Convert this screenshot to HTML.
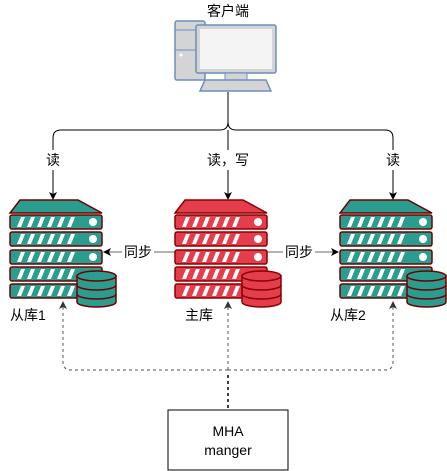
<!DOCTYPE html>
<html><head><meta charset="utf-8"><style>
html,body{margin:0;padding:0;background:#fff;}
svg{display:block;font-family:"Liberation Sans","Noto Sans CJK SC",sans-serif;}
</style></head><body>
<svg width="447" height="471" viewBox="0 0 447 471" xmlns="http://www.w3.org/2000/svg">
<defs>
<marker id="ar" markerWidth="8" markerHeight="8" refX="7" refY="4" orient="auto" markerUnits="userSpaceOnUse">
<path d="M0,0 L8,4 L0,8 L2,4 Z" fill="#000"/></marker>
<marker id="ar2" markerWidth="8" markerHeight="8" refX="7" refY="4" orient="auto" markerUnits="userSpaceOnUse">
<path d="M0,0 L8,4 L0,8 L2,4 Z" fill="#333"/></marker>
<g id="rowT">
<rect x="0" y="0" width="92" height="14" rx="2"/>
<g fill="#fff" stroke="none">
<path d="M7,12 L11,2 L15,2 L11,12Z M17,12 L21,2 L25,2 L21,12Z M27,12 L31,2 L35,2 L31,12Z M37,12 L41,2 L45,2 L41,12Z M47,12 L51,2 L55,2 L51,12Z M57,12 L61,2 L65,2 L61,12Z"/>
</g></g>
</defs>

<text x="228" y="16" font-size="14" text-anchor="middle">客户端</text>
<rect x="175" y="21" width="30" height="59" rx="2" fill="#d4d4d4" stroke="#6c8ebf" stroke-width="1.5"/>
<line x1="175" y1="30" x2="196" y2="30" stroke="#6c8ebf"/>
<line x1="175" y1="50" x2="196" y2="50" stroke="#6c8ebf"/>
<circle cx="181" cy="55" r="1.5" fill="#fff"/>
<rect x="196" y="25" width="80" height="48" rx="2" fill="#d4d4d4" stroke="#6c8ebf" stroke-width="1.5"/>
<rect x="200" y="29" width="72" height="40" fill="#f4f4f4"/>
<rect x="225" y="73" width="22" height="7" fill="#d4d4d4" stroke="#6c8ebf"/>
<path d="M205,80 L266,80 L271,91 L200,91 Z" fill="#d4d4d4" stroke="#6c8ebf" stroke-width="1.5"/>

<path d="M228,92 L228,122 Q228,130 236,130 L385,130 Q393,130 393,138 L393,199" fill="none" stroke="#000" marker-end="url(#ar)"/>
<path d="M228,122 Q228,130 220,130 L61,130 Q53,130 53,138 L53,199" fill="none" stroke="#000" marker-end="url(#ar)"/>
<line x1="228" y1="130" x2="228" y2="199" stroke="#000" marker-end="url(#ar)"/>
<rect x="40" y="150" width="26" height="20" fill="#fff"/>
<rect x="380" y="150" width="26" height="20" fill="#fff"/>
<rect x="198" y="150" width="60" height="20" fill="#fff"/>
<text x="53" y="165" font-size="14" text-anchor="middle">读</text>
<text x="228" y="165" font-size="14" text-anchor="middle">读，写</text>
<text x="393" y="165" font-size="14" text-anchor="middle">读</text>

<line x1="175" y1="252" x2="104" y2="252" stroke="#666" marker-end="url(#ar)"/>
<line x1="267" y1="252" x2="338" y2="252" stroke="#666" marker-end="url(#ar)"/>
<rect x="122" y="243" width="32" height="18" fill="#fff"/>
<rect x="283" y="243" width="32" height="18" fill="#fff"/>
<text x="138" y="257" font-size="14" text-anchor="middle">同步</text>
<text x="299" y="257" font-size="14" text-anchor="middle">同步</text>

<g transform="translate(10,200)" fill="#2a9d8f" stroke="#6f0000" stroke-width="1.5">
<path d="M10,0 L68,0 L92,13 L0,13 Z"/>
<use href="#rowT" y="15"/><use href="#rowT" y="32"/><use href="#rowT" y="50"/><use href="#rowT" y="67"/><use href="#rowT" y="84"/>
<g fill="#fff" stroke="none"><circle cx="83" cy="22" r="4"/><circle cx="83" cy="39" r="4"/><circle cx="83" cy="57" r="4"/></g>
<g transform="translate(67,70)"><path d="M0,6 L0,32 A19.5,5 0 0 0 39,32 L39,6 Z"/><ellipse cx="19.5" cy="6" rx="19.5" ry="5"/><path d="M0,15 A19.5,5 0 0 0 39,15 M0,24 A19.5,5 0 0 0 39,24" fill="none"/></g>
</g>
<g transform="translate(175,200)" fill="#e43d4b" stroke="#8b0000" stroke-width="1.5">
<path d="M10,0 L68,0 L92,13 L0,13 Z"/>
<use href="#rowT" y="15"/><use href="#rowT" y="32"/><use href="#rowT" y="50"/><use href="#rowT" y="67"/><use href="#rowT" y="84"/>
<g fill="#fff" stroke="none"><circle cx="83" cy="22" r="4"/><circle cx="83" cy="39" r="4"/><circle cx="83" cy="57" r="4"/></g>
<g transform="translate(67,70)"><path d="M0,6 L0,32 A19.5,5 0 0 0 39,32 L39,6 Z"/><ellipse cx="19.5" cy="6" rx="19.5" ry="5"/><path d="M0,15 A19.5,5 0 0 0 39,15 M0,24 A19.5,5 0 0 0 39,24" fill="none"/></g>
</g>
<g transform="translate(340,200)" fill="#2a9d8f" stroke="#6f0000" stroke-width="1.5">
<path d="M10,0 L68,0 L92,13 L0,13 Z"/>
<use href="#rowT" y="15"/><use href="#rowT" y="32"/><use href="#rowT" y="50"/><use href="#rowT" y="67"/><use href="#rowT" y="84"/>
<g fill="#fff" stroke="none"><circle cx="83" cy="22" r="4"/><circle cx="83" cy="39" r="4"/><circle cx="83" cy="57" r="4"/></g>
<g transform="translate(67,70)"><path d="M0,6 L0,32 A19.5,5 0 0 0 39,32 L39,6 Z"/><ellipse cx="19.5" cy="6" rx="19.5" ry="5"/><path d="M0,15 A19.5,5 0 0 0 39,15 M0,24 A19.5,5 0 0 0 39,24" fill="none"/></g>
</g>

<text x="10" y="320" font-size="14">从库1</text>
<text x="185" y="320" font-size="14">主库</text>
<text x="330" y="320" font-size="14">从库2</text>

<path d="M228,370 L71,370 Q63,370 63,362 L63,302" fill="none" stroke="#555" stroke-dasharray="3,3" marker-end="url(#ar2)"/>
<path d="M228,370 L385,370 Q393,370 393,362 L393,302" fill="none" stroke="#555" stroke-dasharray="3,3" marker-end="url(#ar2)"/>
<line x1="228" y1="370" x2="228" y2="302" stroke="#555" stroke-dasharray="3,3" marker-end="url(#ar2)"/>
<line x1="228" y1="375" x2="228" y2="410" stroke="#000" stroke-dasharray="3,3" stroke-width="1.5"/>

<rect x="168" y="410" width="120" height="60" fill="#fff" stroke="#000"/>
<text x="228" y="436" font-size="14" text-anchor="middle">MHA</text>
<text x="228" y="455" font-size="14" text-anchor="middle">manger</text>
</svg>
</body></html>
